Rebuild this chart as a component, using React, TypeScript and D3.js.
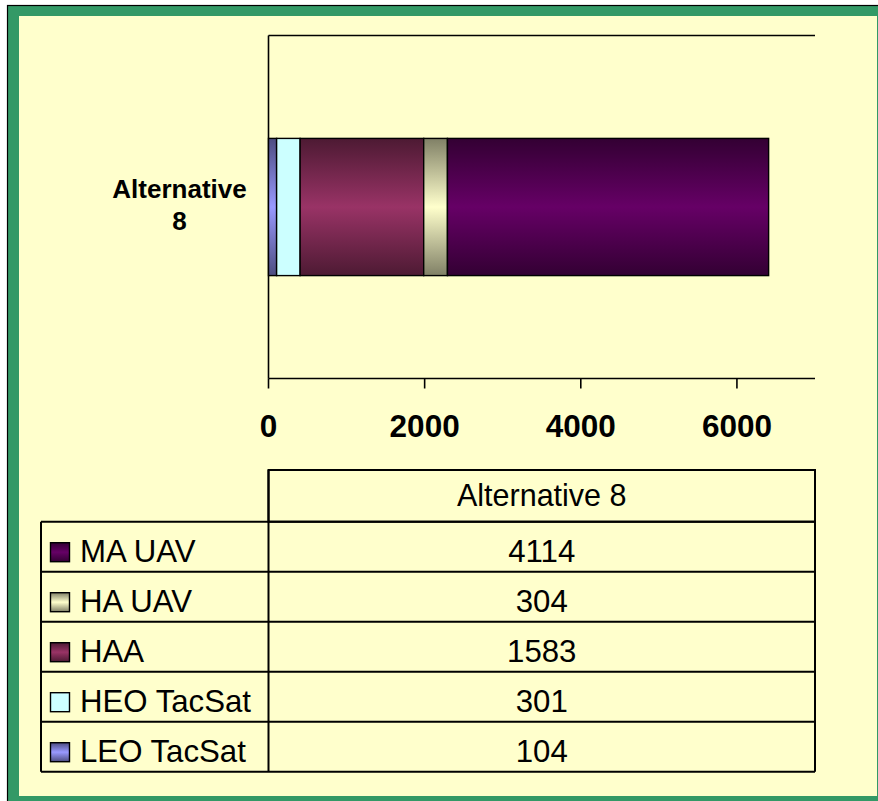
import React from "react";
import * as d3 from "d3";

const categories = ["Alternative 8"];
const categoryLines = [["Alternative", "8"]];
const seriesNames = ["LEO TacSat", "HEO TacSat", "HAA", "HA UAV", "MA UAV"];
const seriesValues = [104, 301, 1583, 304, 4114];
const seriesColors = ["#9999FF", "#CCFFFF", "#993366", "#FFFFCC", "#660066"];
const seriesFlat = [false, true, false, false, false];
const xTicks = [0, 2000, 4000, 6000];
const xMax = 7000;

const W = 878;
const H = 801;
const FONT = "'Liberation Sans', Arial, Helvetica, sans-serif";

export default function App() {
  const plotLeft = 268.5;
  const plotRight = 815;
  const plotTop = 35.5;
  const plotBottom = 378.5;

  const x = d3.scaleLinear().domain([0, xMax]).range([plotLeft, plotRight]);
  const y = d3.scaleBand<string>().domain(categories).range([plotTop, plotBottom]).padding(0.4286);

  const row: Record<string, number | string> = { cat: categories[0] };
  seriesNames.forEach((n, i) => (row[n] = seriesValues[i]));
  const stacked = d3.stack<any>().keys(seriesNames)([row]);

  const darken = (c: string) => {
    const col = d3.rgb(c);
    return d3.rgb(col.r * 0.5, col.g * 0.5, col.b * 0.5).formatHex();
  };

  // table geometry
  const tblTop = 470;
  const headBottom = 521.7;
  const tblBottom = 771.7;
  const legLeft = 41;
  const valLeft = plotLeft;
  const valRight = plotRight;
  const tableRows = seriesNames.map((n, i) => ({ name: n, value: seriesValues[i], idx: i })).reverse();
  const rowY = d3
    .scaleBand<string>()
    .domain(tableRows.map((r) => r.name))
    .range([headBottom, tblBottom]);

  return (
    <svg
      width={W}
      height={H}
      style={{ position: "absolute", left: 0, top: 0, display: "block" }}
      fontFamily={FONT}
    >
      <defs>
        {seriesNames.map((n, i) => (
          <linearGradient key={n} id={`g${i}`} x1="0" y1="0" x2="0" y2="1">
            <stop offset="0%" stopColor={seriesFlat[i] ? seriesColors[i] : darken(seriesColors[i])} />
            <stop offset="50%" stopColor={seriesColors[i]} />
            <stop offset="100%" stopColor={seriesFlat[i] ? seriesColors[i] : darken(seriesColors[i])} />
          </linearGradient>
        ))}
      </defs>

      {/* frame */}
      <rect x={7.5} y={5.5} width={900} height={820} fill="#339966" stroke="#000" strokeWidth={1.2} />
      <rect x={19} y={16} width={858} height={780} fill="#FFFFCC" />

      {/* plot area lines */}
      <line x1={plotLeft} x2={plotRight} y1={plotTop} y2={plotTop} stroke="#000" strokeWidth={1.6} />
      <line x1={plotLeft} x2={plotLeft} y1={plotTop} y2={plotBottom} stroke="#000" strokeWidth={1.6} />
      <line x1={plotLeft} x2={plotRight} y1={plotBottom} y2={plotBottom} stroke="#000" strokeWidth={1.6} />

      {/* bars */}
      {stacked.map((s, i) =>
        s.map((d, j) => (
          <rect
            key={`${i}-${j}`}
            x={x(d[0])}
            y={y(categories[j])!}
            width={x(d[1]) - x(d[0])}
            height={y.bandwidth()}
            fill={`url(#g${i})`}
            stroke="#000"
            strokeWidth={1.4}
          />
        ))
      )}

      {/* x ticks */}
      {xTicks.map((t) => (
        <g key={t}>
          <line x1={x(t)} x2={x(t)} y1={plotBottom} y2={plotBottom + 10} stroke="#000" strokeWidth={1.6} />
          <text x={x(t)} y={437} textAnchor="middle" fontWeight="bold" fontSize={31.5}>
            {t}
          </text>
        </g>
      ))}

      {/* category labels */}
      {categories.map((c, j) => (
        <text key={c} textAnchor="middle" fontWeight="bold" fontSize={26}>
          {categoryLines[j].map((ln, k) => (
            <tspan key={k} x={179.5} y={198.3 + k * 31.7}>
              {ln}
            </tspan>
          ))}
        </text>
      ))}

      {/* data table */}
      <g stroke="#000" strokeWidth={2} fill="none">
        <rect x={valLeft} y={tblTop} width={valRight - valLeft} height={headBottom - tblTop} />
        <line x1={legLeft} x2={valRight} y1={headBottom} y2={headBottom} />
        {tableRows.map((r) => (
          <line key={r.name} x1={legLeft} x2={valRight} y1={rowY(r.name)! + rowY.bandwidth()} y2={rowY(r.name)! + rowY.bandwidth()} />
        ))}
        <line x1={legLeft} x2={legLeft} y1={headBottom} y2={tblBottom} />
        <line x1={valLeft} x2={valLeft} y1={tblTop} y2={tblBottom} />
        <line x1={valRight} x2={valRight} y1={tblTop} y2={tblBottom} />
      </g>
      <text x={(valLeft + valRight) / 2} y={(tblTop + headBottom) / 2 + 10} textAnchor="middle" fontSize={30.5}>
        {categories[0]}
      </text>
      {tableRows.map((r) => {
        const cy = rowY(r.name)! + rowY.bandwidth() / 2;
        return (
          <g key={r.name}>
            <rect x={50.5} y={cy - 4} width={19} height={19} fill={`url(#g${r.idx})`} stroke="#000" strokeWidth={1.4} />
            <text x={80} y={cy + 15} fontSize={31.2}>
              {r.name}
            </text>
            <text x={(valLeft + valRight) / 2} y={cy + 15} textAnchor="middle" fontSize={31.2}>
              {r.value}
            </text>
          </g>
        );
      })}
    </svg>
  );
}
